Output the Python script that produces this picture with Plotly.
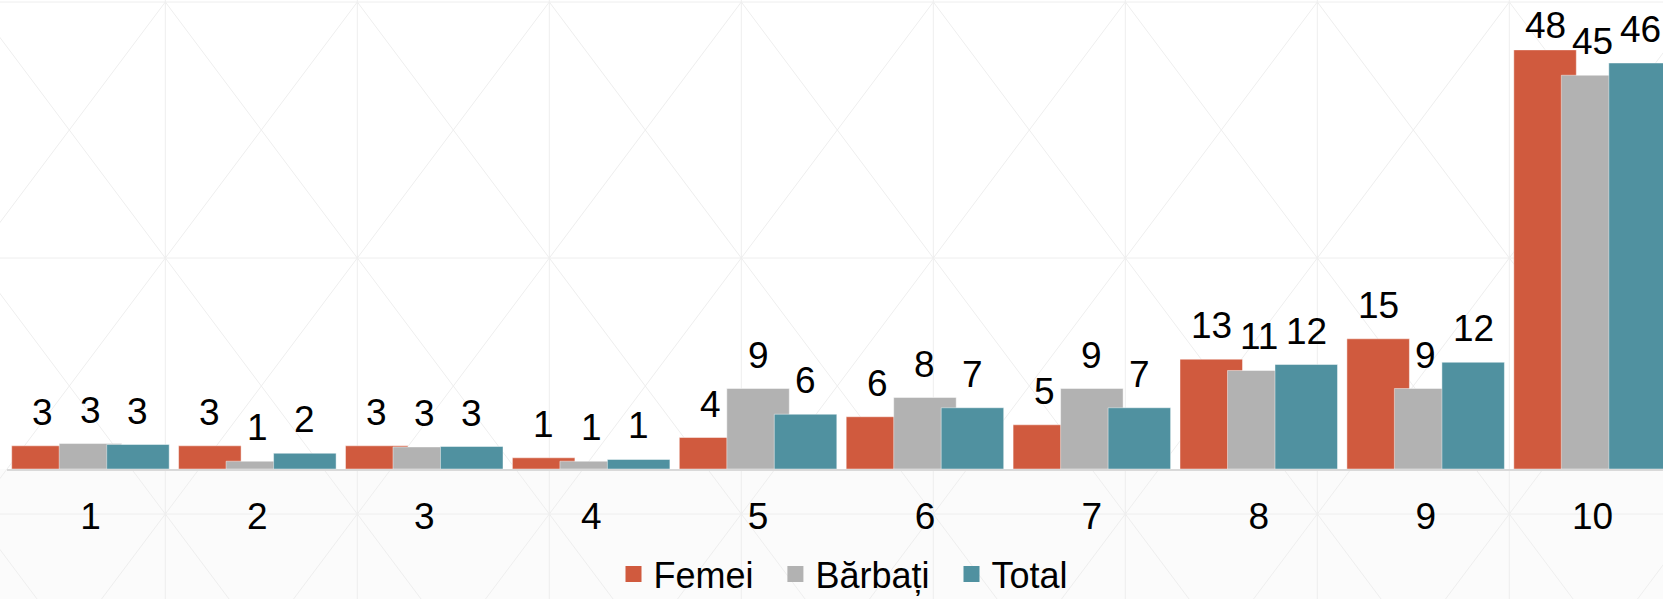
import plotly.graph_objects as go

# ---- data ----
categories = ["1", "2", "3", "4", "5", "6", "7", "8", "9", "10"]
femei = [2.65, 2.65, 2.65, 1.28, 3.6, 5.97, 5.05, 12.55, 14.88, 47.9]
barbati = [2.91, 0.89, 2.52, 0.89, 9.2, 8.17, 9.2, 11.26, 9.2, 45.0]
total = [2.8, 1.8, 2.57, 1.09, 6.26, 7.0, 7.0, 11.94, 12.2, 46.4]
series_names = ["Femei", "Bărbați", "Total"]

# ---- styles ----
colors = ["#D05A3E", "#B2B2B2", "#5091A0"]
FONT = "Liberation Sans, Arial, sans-serif"
FS = 37
LFS = 36
W, H = 1663, 599
ML, MB = 7, 130
plot_w = W - ML
plot_h = H - MB
K = 8.75                      # px per unit on the value axis
BAR_W = 0.3745
STEP = 0.2846
FIRST_OFF = -0.4719
LABEL_GAP = 20                # px between bar top and label baseline
BASE_OFF = 9                  # px between annotation box bottom and text baseline
MIN_TOP = 13                  # label ink may not rise above this pixel row
CAP = 26                      # digit height in px

fig = go.Figure()
annotations = []
legends = ["legend", "legend2", "legend3"]
for i, (name, vals) in enumerate(zip(series_names, [femei, barbati, total])):
    off = FIRST_OFF + i * STEP
    fig.add_trace(go.Bar(
        x=categories, y=vals, name=name,
        width=BAR_W, offset=off,
        marker=dict(color=colors[i], line=dict(width=1, color="rgba(255,255,255,0.45)")),
        showlegend=False, hoverinfo="x+y+name",
    ))
    fig.add_trace(go.Scatter(
        x=[None], y=[None], mode="markers", name=name, legend=legends[i],
        marker=dict(symbol="square", size=16, color=colors[i]),
        showlegend=True,
    ))
    for j, v in enumerate(vals):
        top_px = plot_h - v * K
        base_px = top_px - LABEL_GAP
        if base_px - CAP < MIN_TOP:
            base_px = MIN_TOP + CAP
        annotations.append(dict(
            x=j + off + BAR_W / 2, y=v, xref="x", yref="y",
            text=f"{v:.0f}", showarrow=False,
            xanchor="center", yanchor="bottom",
            yshift=(top_px - base_px) - BASE_OFF,
            font=dict(size=FS, color="#000000", family=FONT),
        ))

# ---- decorative background (pixel geometry -> paper coords) ----
def px(x):
    return (x - ML) / plot_w

def py(y):
    return (plot_h - y) / plot_h

shapes = []
shapes.append(dict(type="rect", xref="paper", yref="paper", x0=px(0), x1=px(W),
                   y0=py(plot_h), y1=py(H), fillcolor="#fbfbfb", line=dict(width=0), layer="below"))
LC = "#eeeeee"
CW, CH = 192.0, 256.0
X0, Y0 = 165.3, 2.0
xs = [X0 + CW * n for n in range(-1, 9)]
ys = [Y0 + CH * m for m in range(0, 4)]
for x in xs:
    shapes.append(dict(type="line", xref="paper", yref="paper", x0=px(x), x1=px(x),
                       y0=py(0), y1=py(H), line=dict(color=LC, width=1), layer="below"))
for y in ys[:3]:
    shapes.append(dict(type="line", xref="paper", yref="paper", x0=px(0), x1=px(W),
                       y0=py(y), y1=py(y), line=dict(color=LC, width=1), layer="below"))
for xa in xs[:-1]:
    xb = xa + CW
    for ya in ys[:3]:
        yb = ya + CH
        shapes.append(dict(type="line", xref="paper", yref="paper", x0=px(xa), y0=py(ya),
                           x1=px(xb), y1=py(yb), line=dict(color=LC, width=1), layer="below"))
        shapes.append(dict(type="line", xref="paper", yref="paper", x0=px(xb), y0=py(ya),
                           x1=px(xa), y1=py(yb), line=dict(color=LC, width=1), layer="below"))

legend_left_px = [613.5, 775.4, 951.5]
legend_common = dict(orientation="h", xanchor="left", y=py(H + 5), yanchor="bottom",
                     font=dict(size=LFS, color="#000000", family=FONT),
                     bgcolor="rgba(0,0,0,0)", itemclick=False, itemdoubleclick=False)

fig.update_layout(
    width=W, height=H,
    margin=dict(l=ML, r=0, t=0, b=MB, pad=0, autoexpand=False),
    barmode="overlay",
    paper_bgcolor="#ffffff", plot_bgcolor="rgba(0,0,0,0)",
    font=dict(family=FONT, size=FS, color="#000000"),
    shapes=shapes,
    annotations=annotations,
    xaxis=dict(type="category", range=[-0.5, 9.422], showgrid=False, zeroline=False,
               showline=True, linecolor="#d9d9d9", linewidth=2,
               ticks="outside", ticklen=14, tickcolor="rgba(0,0,0,0)",
               tickfont=dict(size=FS, color="#000000", family=FONT)),
    yaxis=dict(range=[0, plot_h / K], showgrid=False, zeroline=False,
               showticklabels=False, showline=False),
    legend=dict(x=px(legend_left_px[0]), **legend_common),
    legend2=dict(x=px(legend_left_px[1]), **legend_common),
    legend3=dict(x=px(legend_left_px[2]), **legend_common),
)

fig.write_html(
    "out.html",
    config={"displayModeBar": False},
    post_script="document.body.style.margin='0';document.body.style.overflow='hidden';",
)
